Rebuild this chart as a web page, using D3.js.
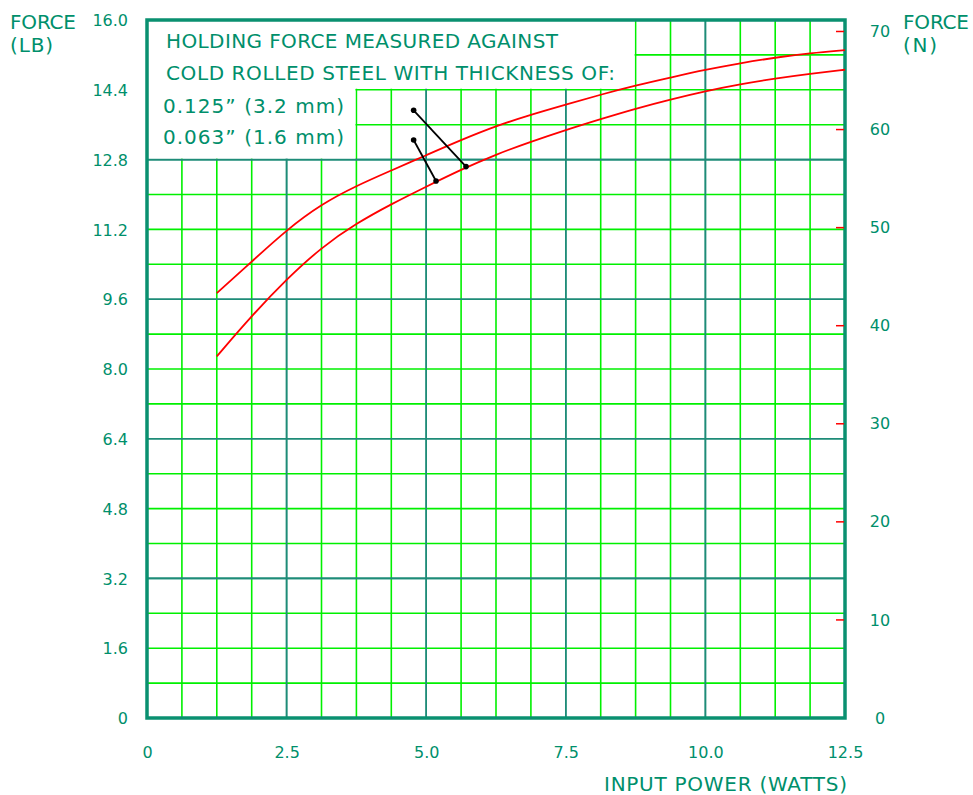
<!DOCTYPE html>
<html>
<head>
<meta charset="utf-8">
<script src="https://cdn.jsdelivr.net/npm/d3@7"></script>
<style>
  html, body { margin: 0; padding: 0; background: #ffffff; }
  svg { display: block; }
  text { font-family: "DejaVu Sans", "Liberation Sans", sans-serif; fill: #008f6b; }
</style>
</head>
<body>
<svg id="chart" width="973" height="795"></svg>
<script>
// ---- data ----
const powerW = [1.25, 1.875, 2.5, 3.125, 3.75, 4.375, 5.0, 5.625, 6.25, 6.875, 7.5, 8.125, 8.75, 9.375, 10.0, 10.625, 11.25, 11.875, 12.5];
const force125 = [9.74, 10.46, 11.19, 11.78, 12.20, 12.55, 12.90, 13.25, 13.57, 13.83, 14.06, 14.29, 14.50, 14.68, 14.86, 15.01, 15.14, 15.24, 15.31];
const force063 = [8.29, 9.22, 10.06, 10.79, 11.34, 11.78, 12.18, 12.57, 12.92, 13.21, 13.48, 13.73, 13.97, 14.18, 14.37, 14.53, 14.66, 14.77, 14.86];
const xTickValues = [0, 2.5, 5.0, 7.5, 10.0, 12.5];
const xTickLabels = ["0", "2.5", "5.0", "7.5", "10.0", "12.5"];
const yTickValues = [0, 1.6, 3.2, 4.8, 6.4, 8.0, 9.6, 11.2, 12.8, 14.4, 16.0];
const yTickLabels = ["0", "1.6", "3.2", "4.8", "6.4", "8.0", "9.6", "11.2", "12.8", "14.4", "16.0"];
const nTickValues = [0, 10, 20, 30, 40, 50, 60, 70];
const legendLines = ["HOLDING FORCE MEASURED AGAINST", "COLD ROLLED STEEL WITH THICKNESS OF:", "0.125\u201D (3.2 mm)", "0.063\u201D (1.6 mm)"];
// leader lines: [from (W, lb), to (W, lb)]
const leader125 = [[4.775, 13.93], [5.713, 12.64]];
const leader063 = [[4.775, 13.25], [5.176, 12.31]];
const LB_TO_N = 4.44822;

// ---- layout ----
const svg = d3.select("#chart");
const L = 147, R = 845, T = 20, B = 718;
const x = d3.scaleLinear().domain([0, 12.5]).range([L, R]);
const y = d3.scaleLinear().domain([0, 16]).range([B, T]);
const yN = d3.scaleLinear().domain([0, 16 * LB_TO_N]).range([B, T]);

const green = "#00f000", teal = "#1e8c78", border = "#0a9070";

// grid minor
const gx = d3.range(0, 20 + 1).map(i => i * 0.625);
const gy = d3.range(0, 20 + 1).map(i => i * 0.8);
const grid = svg.append("g");
grid.selectAll("line.vx").data(gx).join("line")
  .attr("x1", d => x(d)).attr("x2", d => x(d)).attr("y1", T).attr("y2", B)
  .attr("stroke", (d, i) => (i % 4 === 0) ? teal : green).attr("stroke-width", 1.6);
grid.selectAll("line.hy").data(gy).join("line")
  .attr("y1", d => y(d)).attr("y2", d => y(d)).attr("x1", L).attr("x2", R)
  .attr("stroke", (d, i) => (i % 4 === 0) ? teal : green).attr("stroke-width", 1.6);
// redraw major on top
grid.selectAll("line.mx").data(gx.filter((d, i) => i % 4 === 0)).join("line")
  .attr("x1", d => x(d)).attr("x2", d => x(d)).attr("y1", T).attr("y2", B)
  .attr("stroke", teal).attr("stroke-width", 1.6);
grid.selectAll("line.my").data(gy.filter((d, i) => i % 4 === 0)).join("line")
  .attr("y1", d => y(d)).attr("y2", d => y(d)).attr("x1", L).attr("x2", R)
  .attr("stroke", teal).attr("stroke-width", 1.6);

// legend white mask
const mx1 = x(3.75) - 1, mx2 = x(8.75) - 1, my1 = y(14.4) - 1, my2 = y(12.8) - 1;
svg.append("path")
  .attr("d", `M${L},${T} H${mx2} V${my1} H${mx1} V${my2} H${L} Z`)
  .attr("fill", "#ffffff");

// border
svg.append("rect").attr("x", L).attr("y", T).attr("width", R - L).attr("height", B - T)
  .attr("fill", "none").attr("stroke", border).attr("stroke-width", 3.5);

// curves
const line = d3.line().x(d => x(d[0])).y(d => y(d[1])).curve(d3.curveBasis);
[force125, force063].forEach(s => {
  svg.append("path").datum(powerW.map((w, i) => [w, s[i]]))
    .attr("d", line).attr("fill", "none").attr("stroke", "#ff0000").attr("stroke-width", 1.8);
});

// leader lines
[leader125, leader063].forEach(ld => {
  svg.append("line").attr("x1", x(ld[0][0])).attr("y1", y(ld[0][1]))
    .attr("x2", x(ld[1][0])).attr("y2", y(ld[1][1]))
    .attr("stroke", "#000").attr("stroke-width", 1.8);
  ld.forEach(p => svg.append("circle").attr("cx", x(p[0])).attr("cy", y(p[1])).attr("r", 2.8).attr("fill", "#000"));
});

// axes
const yAxis = svg.append("g").attr("transform", `translate(${L},0)`)
  .call(d3.axisLeft(y).tickValues(yTickValues).tickSize(0).tickPadding(19)
    .tickFormat((d, i) => yTickLabels[i]));
const xAxis = svg.append("g").attr("transform", `translate(0,${B})`)
  .call(d3.axisBottom(x).tickValues(xTickValues).tickSize(0).tickPadding(29)
    .tickFormat((d, i) => xTickLabels[i]));
const nAxis = svg.append("g").attr("transform", `translate(${R},0)`)
  .call(d3.axisRight(yN).tickValues(nTickValues).tickSize(0).tickPadding(35)
    .tickFormat(d3.format("d")));
[yAxis, xAxis, nAxis].forEach(a => {
  a.select(".domain").remove();
  a.selectAll("text").attr("font-size", 16).attr("fill", "#008f6b")
    .attr("font-family", "DejaVu Sans, sans-serif");
});
nAxis.selectAll("text").attr("text-anchor", "middle");
yAxis.selectAll("text").attr("dy", "0.36em");
// red inner ticks on N axis
svg.selectAll("line.nt").data(nTickValues.filter(d => d > 0)).join("line")
  .attr("x1", R - 9).attr("x2", R - 1).attr("y1", d => yN(d)).attr("y2", d => yN(d))
  .attr("stroke", "#ff0000").attr("stroke-width", 1.5);

// axis titles
svg.append("text").attr("x", 10).attr("y", 29).attr("font-size", 20).attr("textLength", 66).text("FORCE");
svg.append("text").attr("x", 10).attr("y", 52).attr("font-size", 20).attr("textLength", 43).text("(LB)");
svg.append("text").attr("x", 903).attr("y", 29).attr("font-size", 20).attr("textLength", 66).text("FORCE");
svg.append("text").attr("x", 903).attr("y", 52).attr("font-size", 20).attr("textLength", 34).text("(N)");
svg.append("text").attr("x", 847).attr("y", 791).attr("font-size", 20).attr("text-anchor", "end")
  .attr("textLength", 243).text("INPUT POWER (WATTS)");

// legend text
const legPos = [[166, 48, 392], [166, 80, 449], [163, 113, 181], [163, 144, 181]];
legendLines.forEach((t, i) => {
  svg.append("text").attr("x", legPos[i][0]).attr("y", legPos[i][1]).attr("font-size", 20)
    .attr("textLength", legPos[i][2]).attr("lengthAdjust", "spacing").text(t);
});
</script>
</body>
</html>
